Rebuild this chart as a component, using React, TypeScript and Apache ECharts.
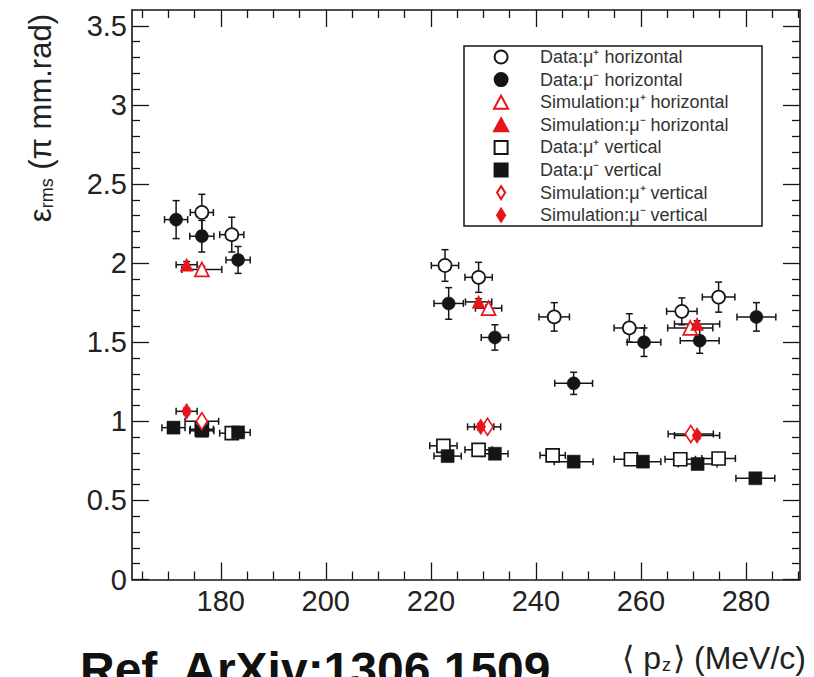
import React, { useEffect, useRef } from "react";
import * as echarts from "echarts";

// ---------- axes ----------
const X_MIN = 163.1;
const X_MAX = 290.3;
const Y_MIN = 0;
const Y_MAX = 3.6;
const X_MAJOR = [180, 200, 220, 240, 260, 280];
const X_MINOR = [165, 170, 175, 185, 190, 195, 205, 210, 215, 225, 230, 235, 245, 250, 255, 265, 270, 275, 285, 290];
const Y_MAJOR = [0, 0.5, 1, 1.5, 2, 2.5, 3, 3.5];
const Y_MINOR = [
  0.1, 0.2, 0.3, 0.4, 0.6, 0.7, 0.8, 0.9, 1.1, 1.2, 1.3, 1.4, 1.6, 1.7, 1.8, 1.9,
  2.1, 2.2, 2.3, 2.4, 2.6, 2.7, 2.8, 2.9, 3.1, 3.2, 3.3, 3.4,
];

// ---------- series names ----------
const NAMES = [
  "Data:μ⁺ horizontal",
  "Data:μ⁻ horizontal",
  "Simulation:μ⁺ horizontal",
  "Simulation:μ⁻ horizontal",
  "Data:μ⁺ vertical",
  "Data:μ⁻ vertical",
  "Simulation:μ⁺ vertical",
  "Simulation:μ⁻ vertical",
];

// ---------- data: mu+ horizontal ----------
const DATA_MUP_H_X = [176.4, 182.1, 222.7, 229.1, 243.5, 257.8, 267.8, 274.8];
const DATA_MUP_H_Y = [2.32, 2.18, 1.985, 1.91, 1.66, 1.59, 1.695, 1.785];
const DATA_MUP_H_EX = [2.2, 2.3, 2.6, 2.6, 2.9, 2.9, 2.9, 3.1];
const DATA_MUP_H_EY = [0.115, 0.11, 0.1, 0.095, 0.09, 0.09, 0.085, 0.095];

// ---------- data: mu- horizontal ----------
const DATA_MUM_H_X = [171.5, 176.4, 183.3, 223.4, 232.2, 247.2, 260.6, 271.2, 282.0];
const DATA_MUM_H_Y = [2.275, 2.17, 2.02, 1.745, 1.53, 1.24, 1.5, 1.51, 1.66];
const DATA_MUM_H_EX = [2.2, 2.3, 2.3, 2.8, 2.6, 3.6, 3.2, 3.7, 3.7];
const DATA_MUM_H_EY = [0.12, 0.1, 0.085, 0.1, 0.08, 0.07, 0.09, 0.08, 0.09];

// ---------- simulation: mu+ horizontal ----------
const SIM_MUP_H_X = [176.4, 231.0, 269.4];
const SIM_MUP_H_Y = [1.96, 1.715, 1.59];
const SIM_MUP_H_EX = [3.8, 2.5, 4.3];
const SIM_MUP_H_EY = [0.02, 0.02, 0.02];

// ---------- simulation: mu- horizontal ----------
const SIM_MUM_H_X = [173.5, 229.1, 270.7];
const SIM_MUM_H_Y = [1.99, 1.755, 1.615];
const SIM_MUM_H_EX = [2.0, 2.5, 4.3];
const SIM_MUM_H_EY = [0.02, 0.02, 0.02];

// ---------- data: mu+ vertical ----------
const DATA_MUP_V_X = [176.4, 182.1, 222.4, 229.1, 243.2, 258.1, 267.5, 274.8];
const DATA_MUP_V_Y = [0.95, 0.925, 0.845, 0.82, 0.785, 0.76, 0.76, 0.765];
const DATA_MUP_V_EX = [2.2, 2.3, 2.6, 2.6, 2.4, 3.2, 2.9, 3.2];
const DATA_MUP_V_EY = [0.02, 0.02, 0.02, 0.02, 0.02, 0.02, 0.02, 0.02];

// ---------- data: mu- vertical ----------
const DATA_MUM_V_X = [171.0, 176.4, 183.3, 223.2, 232.2, 247.2, 260.4, 270.8, 281.8];
const DATA_MUM_V_Y = [0.96, 0.94, 0.93, 0.78, 0.795, 0.745, 0.745, 0.73, 0.64];
const DATA_MUM_V_EX = [2.2, 2.3, 2.3, 2.6, 2.5, 3.7, 3.4, 3.7, 3.7];
const DATA_MUM_V_EY = [0.02, 0.02, 0.02, 0.02, 0.02, 0.02, 0.02, 0.02, 0.02];

// ---------- simulation: mu+ vertical ----------
const SIM_MUP_V_X = [176.4, 230.8, 269.5];
const SIM_MUP_V_Y = [1.0, 0.965, 0.92];
const SIM_MUP_V_EX = [3.2, 2.5, 4.3];
const SIM_MUP_V_EY = [0.02, 0.02, 0.02];

// ---------- simulation: mu- vertical ----------
const SIM_MUM_V_X = [173.5, 229.5, 270.7];
const SIM_MUM_V_Y = [1.063, 0.965, 0.91];
const SIM_MUM_V_EX = [2.0, 2.5, 4.3];
const SIM_MUM_V_EY = [0.02, 0.02, 0.02];

const FONT = "'Liberation Sans', Arial, Helvetica, sans-serif";
const BLACK = "#151515";
const RED = "#e8141c";

const ICON_CIRCLE = "path://M0,6a6,6 0 1,0 12,0a6,6 0 1,0 -12,0Z";
const ICON_TRI = "path://M6,0L12,11L0,11Z";
const ICON_RECT = "path://M0,0L12,0L12,12L0,12Z";
const ICON_DIAMOND = "path://M5,0L10,8L5,16L0,8Z";

type Spec = {
  name: string;
  xs: number[];
  ys: number[];
  ex: number[];
  ey: number[];
  symbol: string;
  size: number | number[];
  icon: string;
  color: string;
  open: boolean;
  z: number;
};

const SPECS: Spec[] = [
  { name: NAMES[0], xs: DATA_MUP_H_X, ys: DATA_MUP_H_Y, ex: DATA_MUP_H_EX, ey: DATA_MUP_H_EY, symbol: "circle", size: 13, icon: ICON_CIRCLE, color: BLACK, open: true, z: 3 },
  { name: NAMES[1], xs: DATA_MUM_H_X, ys: DATA_MUM_H_Y, ex: DATA_MUM_H_EX, ey: DATA_MUM_H_EY, symbol: "circle", size: 13, icon: ICON_CIRCLE, color: BLACK, open: false, z: 3 },
  { name: NAMES[2], xs: SIM_MUP_H_X, ys: SIM_MUP_H_Y, ex: SIM_MUP_H_EX, ey: SIM_MUP_H_EY, symbol: "triangle", size: 14, icon: ICON_TRI, color: RED, open: true, z: 4 },
  { name: NAMES[3], xs: SIM_MUM_H_X, ys: SIM_MUM_H_Y, ex: SIM_MUM_H_EX, ey: SIM_MUM_H_EY, symbol: "triangle", size: 13, icon: ICON_TRI, color: RED, open: false, z: 4 },
  { name: NAMES[4], xs: DATA_MUP_V_X, ys: DATA_MUP_V_Y, ex: DATA_MUP_V_EX, ey: DATA_MUP_V_EY, symbol: "rect", size: 13, icon: ICON_RECT, color: BLACK, open: true, z: 3 },
  { name: NAMES[5], xs: DATA_MUM_V_X, ys: DATA_MUM_V_Y, ex: DATA_MUM_V_EX, ey: DATA_MUM_V_EY, symbol: "rect", size: 13, icon: ICON_RECT, color: BLACK, open: false, z: 3 },
  { name: NAMES[6], xs: SIM_MUP_V_X, ys: SIM_MUP_V_Y, ex: SIM_MUP_V_EX, ey: SIM_MUP_V_EY, symbol: "diamond", size: [11, 17], icon: ICON_DIAMOND, color: RED, open: true, z: 4 },
  { name: NAMES[7], xs: SIM_MUM_V_X, ys: SIM_MUM_V_Y, ex: SIM_MUM_V_EX, ey: SIM_MUM_V_EY, symbol: "diamond", size: [10, 16], icon: ICON_DIAMOND, color: RED, open: false, z: 4 },
];

const errorRender = (params: any, api: any) => {
  const x = api.value(0) as number;
  const y = api.value(1) as number;
  const ex = api.value(2) as number;
  const ey = api.value(3) as number;
  const p = api.coord([x, y]);
  const pl = api.coord([x - ex, y]);
  const pr = api.coord([x + ex, y]);
  const pt = api.coord([x, y + ey]);
  const pb = api.coord([x, y - ey]);
  const c = 3.5;
  const style = { stroke: BLACK, lineWidth: 1.5 };
  const seg = (x1: number, y1: number, x2: number, y2: number) => ({
    type: "line",
    shape: { x1, y1, x2, y2 },
    style,
  });
  return {
    type: "group",
    children: [
      seg(pl[0], p[1], pr[0], p[1]),
      seg(pl[0], p[1] - c, pl[0], p[1] + c),
      seg(pr[0], p[1] - c, pr[0], p[1] + c),
      seg(p[0], pt[1], p[0], pb[1]),
      seg(p[0] - c, pt[1], p[0] + c, pt[1]),
      seg(p[0] - c, pb[1], p[0] + c, pb[1]),
    ],
  };
};

const axisLineStyle = { color: BLACK, width: 1.6 };

function xAxisDef(position: "top" | "bottom", values: number[], len: number, withLine: boolean, withLabels: boolean) {
  return {
    type: "value",
    position,
    min: X_MIN,
    max: X_MAX,
    axisLine: { show: withLine, onZero: false, lineStyle: axisLineStyle },
    axisTick: { show: true, inside: true, length: len, customValues: values, lineStyle: { color: BLACK, width: 1.3 } },
    axisLabel: withLabels
      ? { show: true, customValues: values, fontSize: 29, color: "#222", fontFamily: FONT, margin: 7 }
      : { show: false },
    splitLine: { show: false },
  };
}

function yAxisDef(position: "left" | "right", values: number[], len: number, withLine: boolean, withLabels: boolean) {
  return {
    type: "value",
    position,
    min: Y_MIN,
    max: Y_MAX,
    axisLine: { show: withLine, onZero: false, lineStyle: axisLineStyle },
    axisTick: { show: true, inside: true, length: len, customValues: values, lineStyle: { color: BLACK, width: 1.3 } },
    axisLabel: withLabels
      ? { show: true, customValues: values, fontSize: 29, color: "#222", fontFamily: FONT, margin: 5 }
      : { show: false },
    splitLine: { show: false },
  };
}

function buildOption() {
  const series: any[] = [];
  SPECS.forEach((s, i) => {
    series.push({
      type: "custom",
      name: "err-" + i,
      renderItem: errorRender,
      encode: { x: 0, y: 1 },
      data: s.xs.map((x, k) => [x, s.ys[k], s.ex[k], s.ey[k]]),
      z: 1,
      silent: true,
    });
  });
  SPECS.forEach((s) => {
    series.push({
      type: "scatter",
      name: s.name,
      symbol: s.symbol,
      symbolSize: s.size,
      data: s.xs.map((x, k) => [x, s.ys[k]]),
      itemStyle: s.open
        ? { color: "#ffffff", borderColor: s.color, borderWidth: 1.7, opacity: 1 }
        : { color: s.color, borderColor: s.color, borderWidth: 0.5, opacity: 1 },
      z: s.z,
      silent: true,
    });
  });

  return {
    animation: false,
    backgroundColor: "#ffffff",
    grid: { left: 132, right: 14, top: 10, bottom: 97.5, containLabel: false },
    xAxis: [
      xAxisDef("bottom", X_MAJOR, 17, true, true),
      xAxisDef("bottom", X_MINOR, 8, false, false),
      xAxisDef("top", X_MAJOR, 17, true, false),
      xAxisDef("top", X_MINOR, 8, false, false),
    ],
    yAxis: [
      yAxisDef("left", Y_MAJOR, 17, true, true),
      yAxisDef("left", Y_MINOR, 8, false, false),
      yAxisDef("right", Y_MAJOR, 17, true, false),
      yAxisDef("right", Y_MINOR, 8, false, false),
    ],
    legend: {
      orient: "vertical",
      left: 493,
      top: 48,
      padding: 0,
      itemGap: 4.6,
      itemWidth: 68,
      itemHeight: 13,
      symbolKeepAspect: true,
      selectedMode: false,
      textStyle: { fontSize: 18, lineHeight: 18, color: "#333", fontFamily: FONT },
      data: SPECS.map((s) => ({ name: s.name, icon: s.icon })),
    },
    graphic: [
      {
        type: "rect",
        shape: { x: 464, y: 46, width: 298, height: 180 },
        style: { fill: "none", stroke: BLACK, lineWidth: 1.5 },
        silent: true,
      },
      {
        type: "text",
        x: 40,
        y: 14,
        rotation: Math.PI / 2,
        style: {
          text: "{e|ε}{s|rms}{t| (π mm.rad)}",
          align: "right",
          verticalAlign: "middle",
          fill: "#222",
          rich: {
            e: { fontSize: 31, fontFamily: FONT, fill: "#222", verticalAlign: "top", lineHeight: 31 },
            t: { fontSize: 31, fontFamily: FONT, fill: "#222", verticalAlign: "top", lineHeight: 31 },
            s: { fontSize: 18, fontFamily: FONT, fill: "#222", verticalAlign: "bottom", lineHeight: 18, padding: [17, 0, 0, 0] },
          },
        },
        silent: true,
      },
      {
        type: "text",
        x: 806,
        y: 658,
        style: {
          text: "{a|⟨ p}{s|z}{a|⟩ (MeV/c)}",
          align: "right",
          verticalAlign: "middle",
          fill: "#222",
          rich: {
            a: { fontSize: 32, fontFamily: FONT, fill: "#222", verticalAlign: "top", lineHeight: 32 },
            s: { fontSize: 18, fontFamily: FONT, fill: "#222", verticalAlign: "bottom", lineHeight: 18, padding: [18, 2, 0, 1] },
          },
        },
        silent: true,
      },
      {
        type: "text",
        x: 80,
        y: 669,
        style: {
          text: "Ref. ArXiv:1306.1509",
          fontSize: 48,
          fontWeight: "bold",
          fontFamily: FONT,
          fill: "#111",
          align: "left",
          verticalAlign: "middle",
        },
        silent: true,
      },
    ],
    series,
  };
}

export default function App() {
  const ref = useRef<HTMLDivElement>(null);
  useEffect(() => {
    if (!ref.current) return;
    const chart = echarts.init(ref.current, null, { renderer: "svg" });
    chart.setOption(buildOption() as any);
    return () => {
      chart.dispose();
    };
  }, []);
  return (
    <div
      ref={ref}
      style={{ position: "fixed", left: 0, top: 0, width: 814, height: 677, background: "#fff" }}
    />
  );
}
